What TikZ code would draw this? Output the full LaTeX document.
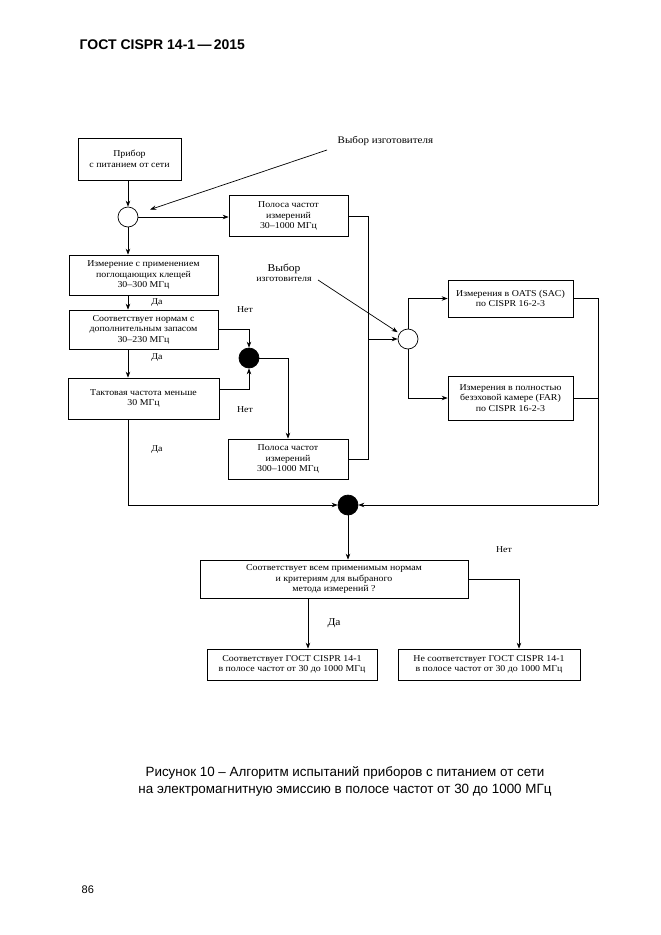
\documentclass[tikz,border=0pt]{standalone}
\usepackage{fontspec}
\setmainfont{Liberation Serif}[FakeStretch=1.1]
\newfontfamily\arialfont{Liberation Sans}
\usetikzlibrary{arrows.meta,shapes}

\begin{document}
\begin{tikzpicture}[x=1pt,y=-1pt,>={Stealth[length=6pt,width=4.5pt]},
                    line width=0.7pt,
                    blk/.style={draw,rectangle,align=center,inner sep=1pt,
                                font=\fontsize{9}{10.5}\selectfont},
                    opn/.style={draw,circle,minimum size=20pt,inner sep=0pt},
                    dot/.style={opn,fill=black},
                    lbl/.style={font=\fontsize{9}{10.5}\selectfont}]

  \useasboundingbox (0,0) rectangle (661,935);

  \node[font=\arialfont\bfseries\fontsize{14}{16}\selectfont,anchor=west]
        (head) at (76,45) {ГОСТ CISPR 14-1\,—\,2015};

  % left column
  \node[blk,minimum width=103pt,minimum height=42pt] (pribor) at (129.5,159)
        {Прибор\\с питанием от сети};
  \node[opn]  (c1) at (128,217) {};
  \node[blk,minimum width=119pt,minimum height=41pt] (band1) at (288.5,216)
        {Полоса частот\\измерений\\30–1000 МГц};
  \node[blk,minimum width=149pt,minimum height=40pt] (clamp) at (143.5,275)
        {Измерение с применением\\поглощающих клещей\\30–300 МГц};
  \node[blk,minimum width=149pt,minimum height=39pt] (marg) at (143.5,329.5)
        {Соответствует нормам с\\дополнительным запасом\\30–230 МГц};
  \node[blk,minimum width=151pt,minimum height=41pt] (clock) at (143.5,398.5)
        {Тактовая частота меньше\\30 МГц};
  \node[dot]  (d1) at (249,358) {};
  \node[blk,minimum width=120pt,minimum height=40pt] (band2) at (288,459)
        {Полоса частот\\измерений\\300–1000 МГц};

  % right column
  \node[opn]  (c2) at (408,339) {};
  \node[blk,minimum width=125pt,minimum height=37pt] (oats) at (510.5,298.5)
        {Измерения в OATS (SAC)\\по CISPR 16-2-3};
  \node[blk,minimum width=125pt,minimum height=44pt] (far) at (510.5,398)
        {Измерения в полностью\\безэховой камере (FAR)\\по CISPR 16-2-3};

  % bottom
  \node[dot]  (d2) at (348,505) {};
  \node[blk,minimum width=268pt,minimum height=38pt] (check) at (334,579)
        {Соответствует всем применимым нормам\\и критериям для выбраного\\метода измерений ?};
  \node[blk,minimum width=170pt,minimum height=31pt] (pass) at (292,664.5)
        {Соответствует ГОСТ CISPR 14-1\\в полосе частот от 30 до 1000 МГц};
  \node[blk,minimum width=182pt,minimum height=31pt] (fail) at (489,664.5)
        {Не соответствует ГОСТ CISPR 14-1\\в полосе частот от 30 до 1000 МГц};

  % manufacturer choice
  \node[lbl,anchor=west,font=\fontsize{10}{12}\selectfont] (vybor1) at (334,141)
        {Выбор изготовителя};
  \node[lbl,align=center] (vybor2) at (284,273)
        {{\fontsize{10.5}{12}\selectfont Выбор}\\изготовителя};
  \coordinate (v1) at (327,150);
  \coordinate (v2) at (318,280);

  % junctions
  \coordinate (j1) at (368,339);
  \coordinate (j2) at (598,505);

  % labels
  \node[lbl] (yes1) at (157,303) {Да};
  \node[lbl] (yes2) at (157,358) {Да};
  \node[lbl] (yes3) at (157,450) {Да};
  \node[lbl,font=\fontsize{10.5}{12}\selectfont] (yes4) at (334,623) {Да};
  \node[lbl] (no1)  at (245,310) {Нет};
  \node[lbl] (no2)  at (245,410) {Нет};
  \node[lbl] (no3)  at (504,550) {Нет};

  \draw[->] (pribor.south -| c1) -- (c1);
  \draw[->,shorten >=13pt] (v1) -- (c1);
  \draw[->] (c1) -- (c1 -| band1.west);
  \draw[->] (c1) -- (c1 |- clamp.north);
  \draw[->] (clamp.south -| c1) -- (c1 |- marg.north);
  \draw[->] (marg.south -| c1) -- (c1 |- clock.north);
  \draw[->] (marg.east) -| (d1);
  \draw[->] ([yshift=9.5pt]clock.east) -| (d1);
  \draw[->] (d1) -| (band2);
  \draw (band1.east) -| (j1);
  \draw (band2.east) -| (j1);
  \draw[->] (j1) -- (c2);
  \draw[->,shorten >=2pt] (v2) -- (c2);
  \draw[->] (c2) |- (oats.west);
  \draw[->] (c2) |- (far.west);
  \draw (oats.east) -| (j2);
  \draw (far.east) -- (far.east -| j2);
  \draw[->] (j2) -- (d2);
  \draw[->] (clock.south -| c1) |- (d2);
  \draw[->] (d2) -- (d2 |- check.north);
  \draw[->] (check.east) -| ([xshift=30pt]fail.north);
  \draw[->] ([xshift=16pt]pass.north |- check.south) -- ([xshift=16pt]pass.north);

  % caption
  \node[font=\arialfont\fontsize{13.4}{17}\selectfont,align=center] (caption)
        at (345,781) {Рисунок 10 – Алгоритм испытаний приборов с питанием от сети\\
                      на электромагнитную эмиссию в полосе частот от 30 до 1000 МГц};
  \node[font=\arialfont\fontsize{11}{13}\selectfont,anchor=west] (page) at (78,890) {86};
\end{tikzpicture}
\end{document}
